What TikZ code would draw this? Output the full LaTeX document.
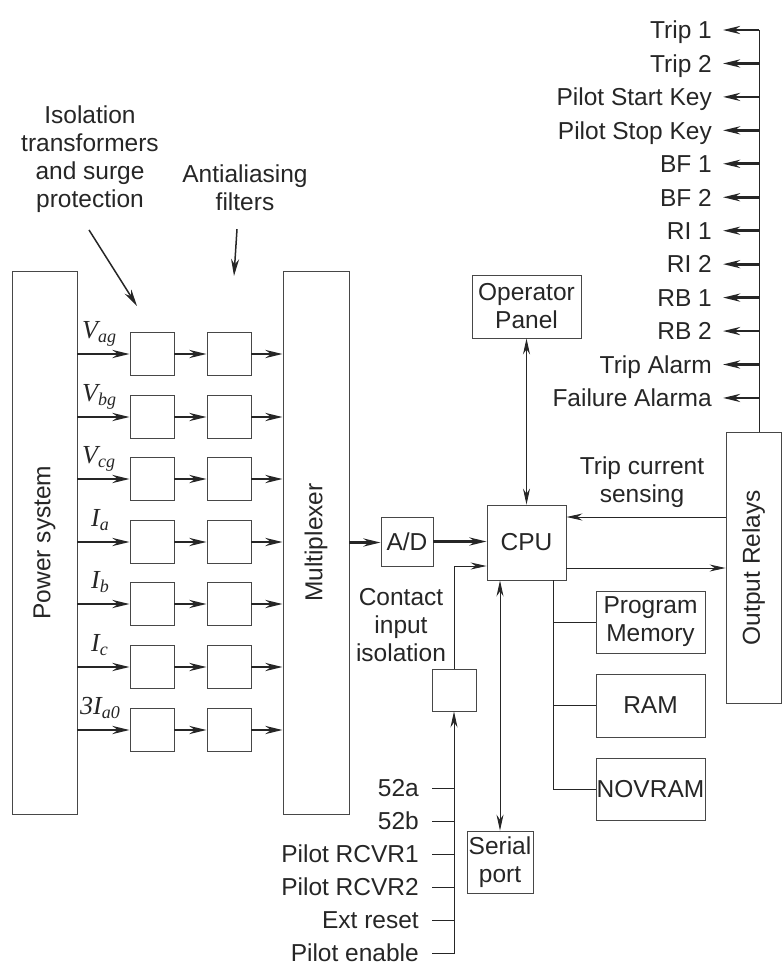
\documentclass[tikz,border=0pt]{standalone}
\usepackage{fontspec}
\setmainfont{Liberation Sans}
\newfontfamily\timesf{Liberation Serif}
\usetikzlibrary{arrows.meta}
\colorlet{ln}{black!72}
\colorlet{ar}{black!85}
\newcommand\sig[2]{{\timesf\itshape\fontsize{26}{26}\selectfont #1\raisebox{-4pt}{\fontsize{18}{18}\selectfont #2}}}

\begin{document}
\begin{tikzpicture}[x=1pt,y=-1pt,>={Stealth[length=17pt,width=8pt]},
	font=\fontsize{24.5}{28}\selectfont,text=black!85,
	blk/.style={draw=ln,line width=0.9pt,inner sep=0pt,align=center},
	fbox/.style={blk,minimum width=44pt,minimum height=43pt},
	thk/.style={->,draw=ar,line width=2.8pt},
	thn/.style={draw=ar,line width=0.9pt,>={Stealth[length=16pt,width=7pt]}},
	ann/.style={->,draw=ar,line width=1.5pt},
	lbl/.style={inner sep=0pt,text height=17.5pt,text depth=0pt}]
	\useasboundingbox (0,0) rectangle (783,967);
	\node[blk,minimum width=65pt,minimum height=543pt,label={[rotate=90]center:Power system}] (pwr) at (44.5,542.5) {};
	\node[blk,minimum width=66pt,minimum height=543pt,label={[rotate=90]center:Multiplexer}] (mux) at (316,542.5) {};
	\node[blk,minimum width=55pt,minimum height=271pt,label={[rotate=90]center:Output Relays}] (rel) at (753.5,567.5) {};
	\foreach \y/\lab/\lx [count=\i] in {354/{\sig{V}{ag}}/82,417/{\sig{V}{bg}}/82,479/{\sig{V}{cg}}/82,542/{\sig{I}{a}}/91,604/{\sig{I}{b}}/91,667/{\sig{I}{c}}/91,730/{\sig{3I}{a0}}/80}{
		\node[fbox] (iso\i) at (152,\y) {};
		\node[fbox] (flt\i) at (229,\y) {};
		\draw[thk] (pwr.east |- iso\i) -- (iso\i);
		\draw[thk] (iso\i) -- (flt\i);
		\draw[thk] (flt\i) -- (mux.west |- flt\i);
		\node[anchor=base west,inner sep=0pt] at (\lx,\y-16) {\lab};
	}
	\node[align=center] (isotxt) at (90,159) {Isolation\\transformers\\and surge\\protection};
	\node[align=center] (aatxt) at (245,187.5) {Antialiasing\\filters};
	\coordinate (isotip) at (137,306);
	\coordinate (aatip) at (234,276);
	\draw[ann] ([xshift=-1pt,yshift=-14pt]isotxt.south) -- (isotip);
	\draw[ann] ([xshift=-8pt,yshift=-15pt]aatxt.south) -- (aatip);
	\node[blk,minimum width=52pt,minimum height=49pt] (ad) at (407,541.5) {A/D};
	\node[blk,minimum width=79pt,minimum height=75pt] (cpu) at (526.5,542.5) {CPU};
	\node[blk,minimum width=109pt,minimum height=63pt] (op) at (526.5,306.5) {Operator\\Panel};
	\node[blk,minimum width=109pt,minimum height=62pt] (pm) at (650.5,622) {Program\\Memory};
	\node[blk,minimum width=109pt,minimum height=63pt] (ram) at (650.5,705.5) {RAM};
	\node[blk,minimum width=109pt,minimum height=62pt] (nov) at (650.5,789) {NOVRAM};
	\node[blk,minimum width=44pt,minimum height=42pt] (cib) at (454,690) {};
	\node[blk,minimum width=66pt,minimum height=62pt] (ser) at (500,862) {Serial\\port};
	\node[align=center] (tcs) at (642,482.5) {Trip current\\sensing};
	\node[align=center] (cii) at (401,625.5) {Contact\\input\\isolation};
	\draw[thk] (mux.east) -- (ad.west |- mux.east);
	\draw[thk] (ad.east) -- (cpu.west |- ad.east);
	\draw[thn,<->] (op) -- (cpu);
	\draw[thn,<->] (ser.north) -- (ser.north |- cpu.south);
	\draw[thn,<-] ([yshift=25.5pt]cpu.east) coordinate (tc) -- (tc -| rel.west);
	\draw[thn,->] ([yshift=-25.5pt]cpu.east) coordinate (cr) -- (cr -| rel.west);
	\draw[thn] ([xshift=26.5pt]cpu.south) coordinate (mb) |- (nov.west);
	\draw[thn] (mb |- pm.west) -- (pm.west);
	\draw[thn] (mb |- ram.west) -- (ram.west);
	\draw[thn,->] (cib.north) |- ([yshift=-23.5pt]cpu.west);
	\coordinate (inbot) at (454,954);
	\draw[thn,->] (inbot) -- (cib.south);
	\foreach \t [count=\i] in {52a,52b,Pilot RCVR1,Pilot RCVR2,Ext reset,Pilot enable}{
		\node[lbl,anchor=east] (in\i) at (419,788+33*\i-33) {\t};
		\draw[thn] ([xshift=13pt]in\i.east) -- (in\i.east -| inbot);
	}
	\coordinate (bustop) at (759,30);
	\draw[thn] (bustop) -- (bustop |- rel.north);
	\foreach \t [count=\i] in {Trip 1,Trip 2,Pilot Start Key,Pilot Stop Key,BF 1,BF 2,RI 1,RI 2,RB 1,RB 2,Trip Alarm,Failure Alarma}{
		\node[lbl,anchor=east] (out\i) at (712,30+33.45*\i-33.45) {\t};
		\draw[thk] (bustop |- out\i.east) -- ([xshift=11pt]out\i.east);
	}
\end{tikzpicture}
\end{document}
